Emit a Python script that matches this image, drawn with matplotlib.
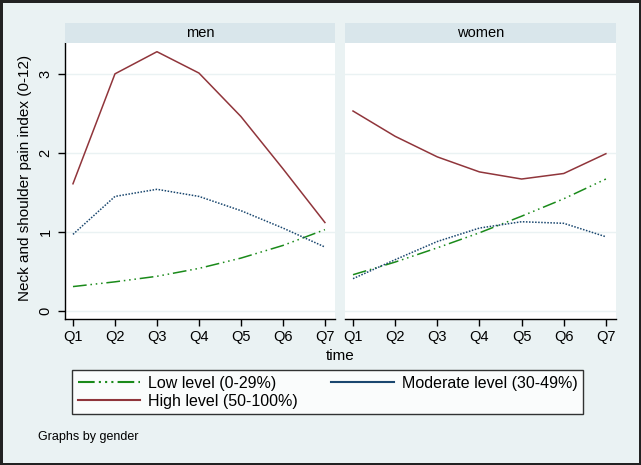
import matplotlib
matplotlib.use("Agg")
import matplotlib.pyplot as plt
from matplotlib.lines import Line2D
import numpy as np

plt.rcParams['font.family'] = ['Liberation Sans', 'DejaVu Sans']

quarters = ['Q1', 'Q2', 'Q3', 'Q4', 'Q5', 'Q6', 'Q7']
panels = ['men', 'women']

# values
low = {
    'men':   [0.31, 0.37, 0.44, 0.54, 0.67, 0.83, 1.03],
    'women': [0.46, 0.62, 0.80, 0.99, 1.20, 1.42, 1.67],
}
moderate = {
    'men':   [0.97, 1.45, 1.54, 1.45, 1.27, 1.05, 0.81],
    'women': [0.41, 0.65, 0.88, 1.05, 1.13, 1.11, 0.94],
}
high = {
    'men':   [1.61, 3.00, 3.28, 3.01, 2.46, 1.80, 1.12],
    'women': [2.53, 2.21, 1.95, 1.76, 1.67, 1.74, 1.99],
}

BG = '#EAF2F3'
STRIP = '#D9E6EB'
GREEN = '#1A8A1A'
NAVY = '#1A476F'
MAROON = '#90353B'

W, H = 641, 465
fig = plt.figure(figsize=(W / 100, H / 100), dpi=100)
fig.patch.set_facecolor(BG)
fig.patch.set_edgecolor('#222222')
fig.patch.set_linewidth(2.5)


def box(x0, y0, x1, y1):
    # pixel box (top-left origin) -> figure fraction rect
    return [x0 / W, 1 - y1 / H, (x1 - x0) / W, (y1 - y0) / H]


x = np.arange(1, 8)
low_style = (0, (9, 2.5, 1, 2.5, 1, 2.5, 1, 2.5))
lefts = [(65, 335), (345, 616)]

for i, name in enumerate(panels):
    x0, x1 = lefts[i]
    ax = fig.add_axes(box(x0, 43, x1, 319))
    ax.set_facecolor('white')
    ax.plot(x, low[name], color=GREEN, lw=1.1, linestyle=low_style)
    ax.plot(x, moderate[name], color=NAVY, lw=1.1, linestyle=(0, (1, 1)))
    ax.plot(x, high[name], color=MAROON, lw=1.1)
    ax.set_xlim(0.81, 7.24)
    ax.set_ylim(-0.10, 3.39)
    ax.set_xticks(x)
    ax.set_xticklabels(quarters, fontsize=10.5)
    ax.set_yticks([0, 1, 2, 3])
    ax.grid(axis='y', color=BG, lw=1.0)
    ax.set_axisbelow(True)
    for s in ['top', 'right']:
        ax.spines[s].set_visible(False)
    ax.spines['bottom'].set_linewidth(1.0)
    ax.tick_params(axis='x', direction='out', length=5, width=1.0, pad=3)
    if i == 0:
        ax.spines['left'].set_linewidth(1.0)
        ax.set_yticklabels(['0', '1', '2', '3'], fontsize=10.5,
                           rotation=90, va='center')
        ax.tick_params(axis='y', direction='out', length=5, width=1.0, pad=4)
    else:
        ax.spines['left'].set_visible(False)
        ax.tick_params(axis='y', length=0, labelleft=False)

    sax = fig.add_axes(box(x0, 23, x1, 43))
    sax.set_facecolor(STRIP)
    sax.set_xticks([])
    sax.set_yticks([])
    for s in sax.spines.values():
        s.set_visible(False)
    sax.text(0.5, 0.5, name, ha='center', va='center', fontsize=10.5,
             transform=sax.transAxes)

fig.text(340 / W, 1 - 356 / H, 'time', ha='center', va='center', fontsize=11)
fig.text(25 / W, 1 - 178 / H, 'Neck and shoulder pain index (0-12)',
         ha='center', va='center', rotation=90, fontsize=11)
fig.text(38 / W, 1 - 437 / H, 'Graphs by gender', ha='left', va='center',
         fontsize=9)

handles = [
    Line2D([], [], color=GREEN, lw=1.5, linestyle=(0, (8, 2, 1, 2, 1, 2, 1, 2))),
    Line2D([], [], color=MAROON, lw=1.5),
    Line2D([], [], color=NAVY, lw=1.5),
]
labels = ['Low level (0-29%)', 'High level (50-100%)', 'Moderate level (30-49%)']
leg = fig.legend(handles, labels, loc='upper left', ncol=2, mode='expand',
                 bbox_to_anchor=box(72, 370, 583, 423), fontsize=11.5,
                 frameon=True, fancybox=False, handlelength=3.9,
                 handletextpad=0.5, borderpad=0.35, labelspacing=0.2,
                 columnspacing=1.5, borderaxespad=0)
leg.get_frame().set_edgecolor('black')
leg.get_frame().set_linewidth(1.0)
leg.get_frame().set_facecolor('white')

fig.savefig('out.png', dpi=100, facecolor=fig.get_facecolor(),
            edgecolor=fig.get_edgecolor())
